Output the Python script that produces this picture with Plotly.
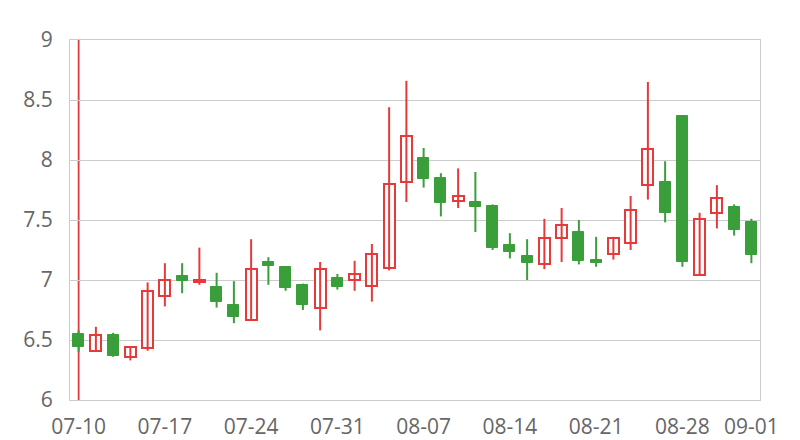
import plotly.graph_objects as go

dates = ["07-10","07-11","07-12","07-13","07-14",
         "07-17","07-18","07-19","07-20","07-21",
         "07-24","07-25","07-26","07-27","07-28",
         "07-31","08-01","08-02","08-03","08-04",
         "08-07","08-08","08-09","08-10","08-11",
         "08-14","08-15","08-16","08-17","08-18",
         "08-21","08-22","08-23","08-24","08-25",
         "08-28","08-29","08-30","08-31","09-01"]
open_ = [6.55,6.41,6.54,6.36,6.43, 6.87,7.03,6.98,6.94,6.79,
         6.67,7.15,7.11,6.96,6.77, 7.02,7.00,6.95,7.10,7.82,
         8.02,7.85,7.66,7.65,7.62, 7.29,7.20,7.13,7.35,7.40,
         7.17,7.22,7.31,7.79,7.82, 8.37,7.04,7.56,7.61,7.48]
close = [6.44,6.54,6.37,6.44,6.91, 7.00,6.99,7.00,6.82,6.69,
         7.09,7.12,6.93,6.79,7.09, 6.94,7.05,7.22,7.80,8.20,
         7.84,7.64,7.70,7.61,7.27, 7.23,7.14,7.35,7.46,7.16,
         7.14,7.35,7.58,8.09,7.56, 7.15,7.51,7.68,7.42,7.21]
high = [6.58,6.61,6.56,6.45,6.98, 7.14,7.14,7.27,7.06,6.99,
        7.34,7.19,7.11,6.97,7.15, 7.05,7.16,7.30,8.44,8.66,
        8.10,7.89,7.93,7.90,7.63, 7.39,7.34,7.51,7.60,7.50,
        7.36,7.36,7.70,8.65,7.99, 8.37,7.56,7.79,7.63,7.51]
low = [6.40,6.41,6.36,6.33,6.41, 6.78,6.89,6.96,6.77,6.64,
       6.67,6.96,6.91,6.75,6.58, 6.92,6.91,6.82,7.08,7.65,
       7.77,7.53,7.60,7.40,7.25, 7.18,7.00,7.09,7.15,7.13,
       7.11,7.17,7.25,7.67,7.48, 7.11,7.04,7.43,7.37,7.14]
tick_dates = ["07-10","07-17","07-24","07-31","08-07","08-14","08-21","08-28","09-01"]
y_ticks = [6, 6.5, 7, 7.5, 8, 8.5, 9]
marker_date = "07-10"

RED = "#e63a3a"
GREEN = "#3a9e3a"

fig = go.Figure()

# wicks
for up, col in [(True, RED), (False, GREEN)]:
    xs, ys = [], []
    for d, o, c, h, l in zip(dates, open_, close, high, low):
        if (c >= o) == up:
            xs += [d, d, None]
            ys += [l, h, None]
    fig.add_trace(go.Scatter(x=xs, y=ys, mode="lines",
                             line=dict(color=col, width=2),
                             hoverinfo="skip", showlegend=False))

# bodies
for up in [True, False]:
    bx, bb, bh = [], [], []
    for d, o, c in zip(dates, open_, close):
        if (c >= o) == up:
            bx.append(d)
            bb.append(min(o, c))
            bh.append(max(abs(c - o), 0.02))
    fig.add_trace(go.Bar(
        x=bx, y=bh, base=bb, width=0.64,
        marker=dict(color="white" if up else GREEN,
                    line=dict(color=RED if up else GREEN, width=2 if up else 1)),
        showlegend=False))

fig.add_shape(type="line", xref="x", yref="y domain",
              x0=marker_date, x1=marker_date, y0=0, y1=1,
              line=dict(color=RED, width=1.8), layer="below")

fig.update_layout(
    width=800, height=440,
    margin=dict(l=70, r=40, t=40, b=40),
    paper_bgcolor="white", plot_bgcolor="white",
    font=dict(family="Open Sans", size=21, color="#666666"),
    bargap=0, barmode="overlay",
    xaxis=dict(type="category", categoryorder="array", categoryarray=dates,
               range=[-0.5, len(dates) - 0.5], automargin=False,
               tickvals=tick_dates, ticktext=tick_dates,
               showgrid=False, showline=True, linecolor="#cccccc", linewidth=1,
               mirror=True, ticks="outside", ticklen=8, tickcolor="rgba(0,0,0,0)",
               zeroline=False, tickangle=0),
    yaxis=dict(range=[6, 9], tickvals=y_ticks, ticktext=[f"{v:g}" for v in y_ticks],
               automargin=False,
               showgrid=True, gridcolor="#cccccc", gridwidth=1,
               showline=True, linecolor="#cccccc", mirror=True,
               ticks="outside", ticklen=12, tickcolor="rgba(0,0,0,0)",
               zeroline=False),
)

fig.write_html("out.html", config={"displayModeBar": False},
               post_script="document.body.style.margin='0';")
